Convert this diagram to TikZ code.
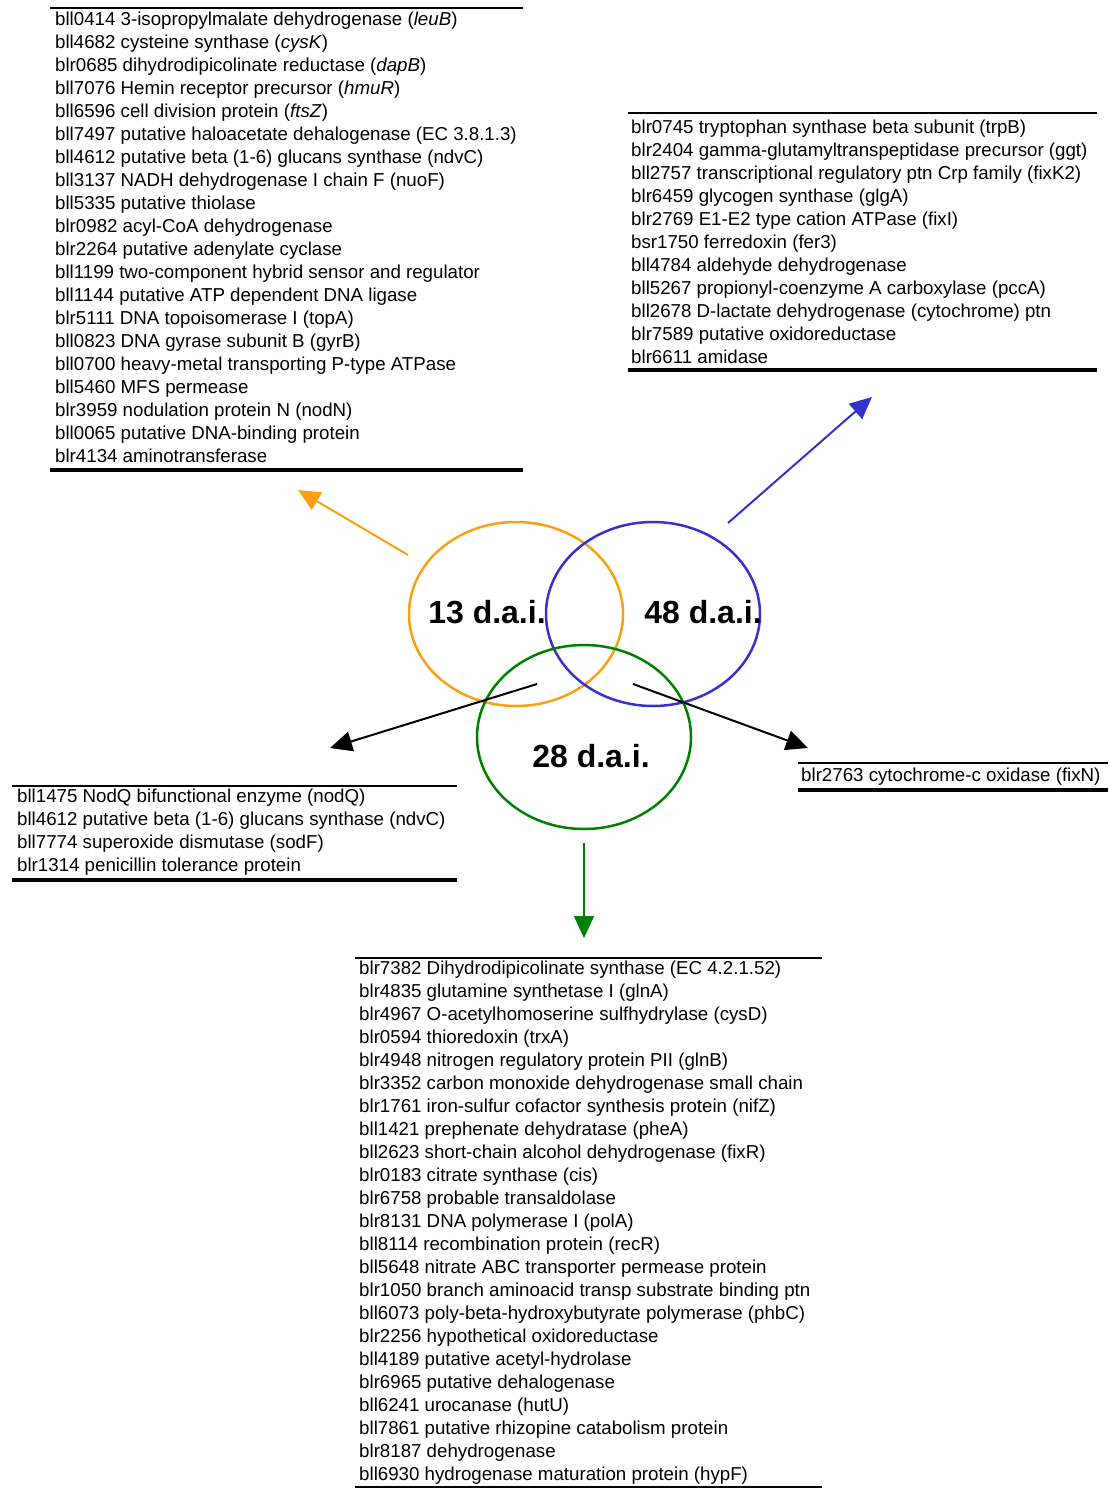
\documentclass[tikz,border=0pt]{standalone}
\usepackage{fontspec}
\setmainfont{Liberation Sans}
\usetikzlibrary{arrows.meta,shapes.geometric}
\definecolor{vorange}{RGB}{250,160,20}
\definecolor{vblue}{RGB}{51,51,204}
\definecolor{vgreen}{RGB}{0,128,0}
\begin{document}
\begin{tikzpicture}[x=1pt,y=-1pt,
  genelist/.style={anchor=north west,inner sep=0pt,align=left,font=\fontsize{18.7}{23}\selectfont},
  toprule/.style={line width=1.6pt},
  botrule/.style={line width=3.5pt},
  setshape/.style={ellipse,draw,line width=2.5pt,minimum width=214pt,minimum height=184pt,inner sep=0pt},
  setlabel/.style={font=\fontsize{32}{38}\selectfont\bfseries},
  link/.style={line width=2pt,-{Triangle[length=22pt,width=20pt]}}]
\useasboundingbox (0,0) rectangle (1108,1488);

% Venn sets
\node[setshape,draw=vorange] (s13) at (516,614) {};
\node[setshape,draw=vblue] (s48) at (653,614) {};
\node[setshape,draw=vgreen] (s28) at (584,737) {};
\node[setlabel] (l13) at (487,612) {13 d.a.i.};
\node[setlabel] (l48) at (703,612) {48 d.a.i.};
\node[setlabel] (l28) at (591,756) {28 d.a.i.};

% top-left list
\draw[toprule] (50,8) -- (523,8);
\node[genelist] (listA) at (55,12) {%
bll0414 3-isopropylmalate dehydrogenase (\textit{leuB})\\
bll4682 cysteine synthase (\textit{cysK})\\
blr0685 dihydrodipicolinate reductase (\textit{dapB})\\
bll7076 Hemin receptor precursor (\textit{hmuR})\\
bll6596 cell division protein (\textit{ftsZ})\\
bll7497 putative haloacetate dehalogenase (EC 3.8.1.3)\\
bll4612 putative beta (1-6) glucans synthase (ndvC)\\
bll3137 NADH dehydrogenase I chain F (nuoF)\\
bll5335 putative thiolase\\
blr0982 acyl-CoA dehydrogenase\\
blr2264 putative adenylate cyclase\\
bll1199 two-component hybrid sensor and regulator\\
bll1144 putative ATP dependent DNA ligase\\
blr5111 DNA topoisomerase I (topA)\\
bll0823 DNA gyrase subunit B (gyrB)\\
bll0700 heavy-metal transporting P-type ATPase\\
bll5460 MFS permease\\
blr3959 nodulation protein N (nodN)\\
bll0065 putative DNA-binding protein\\
blr4134 aminotransferase};
\draw[botrule] (50,470) -- (523,470);

% top-right list
\draw[toprule] (628,113) -- (1097,113);
\node[genelist] (listB) at (631,120) {%
blr0745 tryptophan synthase beta subunit (trpB)\\
blr2404 gamma-glutamyltranspeptidase precursor (ggt)\\
bll2757 transcriptional regulatory ptn Crp family (fixK2)\\
blr6459 glycogen synthase (glgA)\\
blr2769 E1-E2 type cation ATPase (fixI)\\
bsr1750 ferredoxin (fer3)\\
bll4784 aldehyde dehydrogenase\\
bll5267 propionyl-coenzyme A carboxylase (pccA)\\
bll2678 D-lactate dehydrogenase (cytochrome) ptn\\
blr7589 putative oxidoreductase\\
blr6611 amidase};
\draw[botrule] (628,370) -- (1097,370);

% bottom-left list
\draw[toprule] (12,786) -- (457,786);
\node[genelist] (listC) at (17,789) {%
bll1475 NodQ bifunctional enzyme (nodQ)\\
bll4612 putative beta (1-6) glucans synthase (ndvC)\\
bll7774 superoxide dismutase (sodF)\\
blr1314 penicillin tolerance protein};
\draw[botrule] (12,880) -- (457,880);

% right list
\draw[toprule] (798,763) -- (1108,763);
\node[genelist] (listD) at (801,768) {blr2763 cytochrome-c oxidase (fixN)};
\draw[botrule] (798,790) -- (1108,790);

% bottom list
\draw[toprule] (355,958) -- (822,958);
\node[genelist] (listE) at (359,961) {%
blr7382 Dihydrodipicolinate synthase (EC 4.2.1.52)\\
blr4835 glutamine synthetase I (glnA)\\
blr4967 O-acetylhomoserine sulfhydrylase (cysD)\\
blr0594 thioredoxin (trxA)\\
blr4948 nitrogen regulatory protein PII (glnB)\\
blr3352 carbon monoxide dehydrogenase small chain\\
blr1761 iron-sulfur cofactor synthesis protein (nifZ)\\
bll1421 prephenate dehydratase (pheA)\\
bll2623 short-chain alcohol dehydrogenase (fixR)\\
blr0183 citrate synthase (cis)\\
blr6758 probable transaldolase\\
blr8131 DNA polymerase I (polA)\\
bll8114 recombination protein (recR)\\
bll5648 nitrate ABC transporter permease protein\\
blr1050 branch aminoacid transp substrate binding ptn\\
bll6073 poly-beta-hydroxybutyrate polymerase (phbC)\\
blr2256 hypothetical oxidoreductase\\
bll4189 putative acetyl-hydrolase\\
blr6965 putative dehalogenase\\
bll6241 urocanase (hutU)\\
bll7861 putative rhizopine catabolism protein\\
blr8187 dehydrogenase\\
bll6930 hydrogenase maturation protein (hypF)};
\draw[line width=1.2pt] (355,1487) -- (822,1487);

% arrows
\coordinate (oA) at (408,555);
\coordinate (oB) at (298,490);
\coordinate (bA) at (728,523);
\coordinate (bB) at (872,397);
\coordinate (kA) at (537,684);
\coordinate (kB) at (330,748);
\coordinate (rA) at (633,684);
\coordinate (rB) at (808,748);
\coordinate (gA) at (584,843);
\coordinate (gB) at (584,938);
\draw[link,vorange] (oA) -- (oB);
\draw[link,vblue] (bA) -- (bB);
\draw[link,black] (kA) -- (kB);
\draw[link,black] (rA) -- (rB);
\draw[link,vgreen] (gA) -- (gB);
\end{tikzpicture}
\end{document}
